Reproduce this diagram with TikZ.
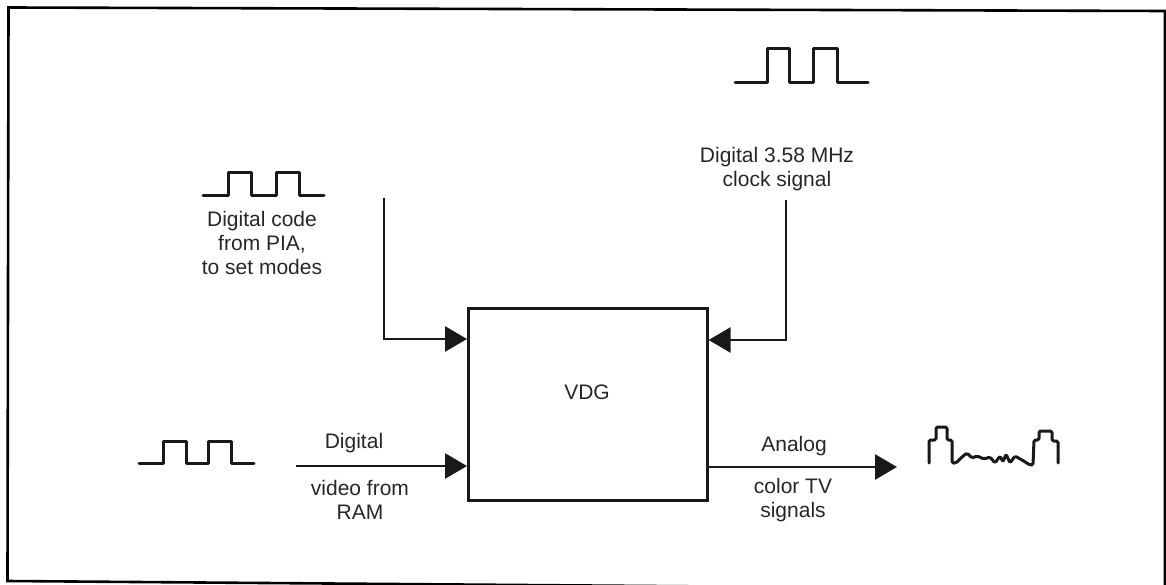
\documentclass[tikz,border=0pt]{standalone}
\usepackage{fontspec}
\setmainfont{Liberation Sans}
\usetikzlibrary{arrows.meta}
\tikzset{
  x=1pt,y=-1pt,
  conn/.style={line width=2.8pt,black!90,-{Triangle[length=22pt,width=25pt]}},
  pulse/.style={line width=3pt,black!90,line join=round,line cap=round},
  lbl/.style={font=\fontsize{21}{24}\selectfont,align=center,inner sep=0pt,text=black!85},
}
\begin{document}
\begin{tikzpicture}
\useasboundingbox (0,0) rectangle (1166,585);
\begin{scope}
\clip (0,0) rectangle (1166,585);
\draw[line width=2.6pt] (8.5,7.5) -- (1165,11) -- (1165,590) -- (7.5,581) -- cycle;
\end{scope}
\node[draw,line width=2.6pt,black!90,minimum width=239pt,minimum height=192pt,inner sep=0pt,anchor=north west] (vdg) at (467,307) {};
\node[lbl] (vdgl) at (587,392) {VDG};
\coordinate (a1) at (384,198);
\coordinate (a2) at (vdg.north west |- 0,339);
\coordinate (b1) at (786,200);
\coordinate (b2) at (vdg.north east |- 0,340);
\coordinate (c1) at (296,466);
\coordinate (c2) at (vdg.north west |- 0,466);
\coordinate (d1) at (vdg.north east |- 0,467);
\coordinate (d2) at (897,467);
\draw[conn] (a1) |- (a2);
\draw[conn] (b1) |- (b2);
\draw[conn] (c1) -- (c2);
\draw[conn] (d1) -- (d2);
\draw[pulse] (203,196)--(228,196)--(228,173)--(251,173)--(251,196)--(276,196)--(276,173)--(299,173)--(299,196)--(324,196);
\draw[pulse] (735,83)--(767,83)--(767,49)--(789,49)--(789,83)--(813,83)--(813,49)--(837,49)--(837,83)--(868,83);
\draw[pulse] (139,463)--(163,463)--(163,441)--(186,441)--(186,463)--(208,463)--(208,441)--(231,441)--(231,463)--(254,463);
\draw[pulse,rounded corners=1.5pt] (929,463)--(929,440)--(936,440)--(936,427)--(947,427)--(947,440)--(952,440)--(952,463)--(956,463)--(962,457)--(967,453)--(972,458)--(977,456)--(984,459)--(990,457)--(995,463)--(1000,456)--(1003,462)--(1006,454)--(1010,463)--(1015,456)--(1022,460)--(1030,465)--(1033,465)--(1034,440)--(1039,440)--(1039,431)--(1052,431)--(1052,441)--(1058,441)--(1058,463);
\node[lbl] (t1) at (262,243) {Digital code\\from PIA,\\to set modes};
\node[lbl] (t2) at (777,169) {Digital 3.58 MHz\\clock signal};
\node[lbl] (t3) at (354,443) {Digital};
\node[lbl] (t4) at (360,500) {video from\\RAM};
\node[lbl] (t5) at (794,446) {Analog};
\node[lbl] (t6) at (793,500) {color TV\\signals};
\end{tikzpicture}
\end{document}
